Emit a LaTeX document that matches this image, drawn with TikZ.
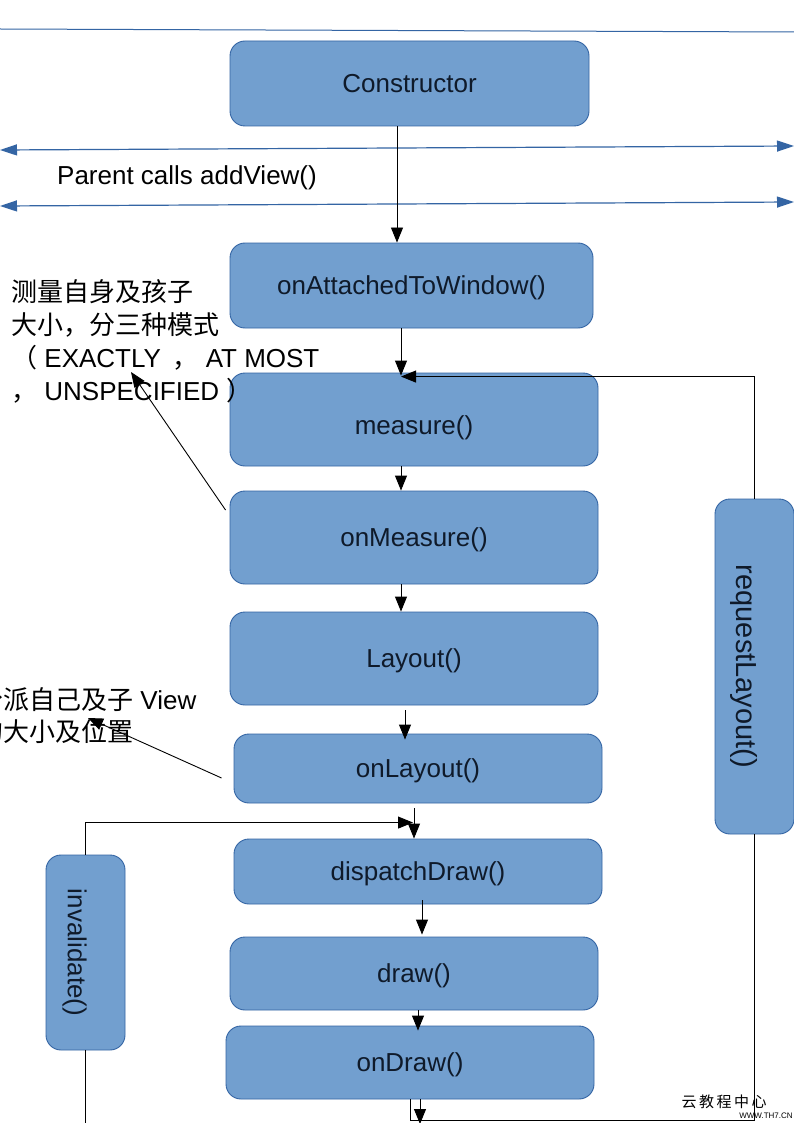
\documentclass[tikz,border=0pt]{standalone}
\usepackage{fontspec}
\setmainfont{Liberation Sans}
\newfontfamily\cjk{Noto Sans CJK SC}
\usetikzlibrary{arrows.meta}
\definecolor{boxfill}{HTML}{729FCF}
\definecolor{boxline}{HTML}{3465A4}
\definecolor{boxtext}{HTML}{0F1A2A}
\begin{document}
\begin{tikzpicture}[x=1pt,y=-1pt,
    box/.style={draw=boxline,fill=boxfill,rounded corners=15pt,line width=0.9pt,text=boxtext,font=\fontsize{26}{31}\selectfont,inner sep=0pt,text depth=0pt},
    boxlabel/.style={text=boxtext,inner sep=0pt},
    flow/.style={-{Triangle[length=15pt,width=12pt]},line width=0.9pt},
    wire/.style={line width=0.9pt},
    span/.style={{Triangle[length=17pt,width=11pt]}-{Triangle[length=17pt,width=11pt]},draw=boxline,line width=1.2pt},
    note/.style={font=\fontsize{26}{33}\selectfont,align=left,anchor=north west,inner sep=0pt}]
    \useasboundingbox[fill=white] (0,0) rectangle (794,1123);
    \draw[draw=boxline,line width=1pt] (0,29) -- (794,32);
    \coordinate (spanAl) at (0,150);
    \coordinate (spanAr) at (794,146);
    \coordinate (spanBl) at (0,206);
    \coordinate (spanBr) at (794,202);
    \draw[span] (spanAl) -- (spanAr);
    \draw[span] (spanBl) -- (spanBr);
    \node[anchor=west,inner sep=0pt,font=\fontsize{26}{31}\selectfont] (addview) at (57,178) {Parent calls addView()};

    \node[box,minimum width=359,minimum height=85] (ctor) at (409.5,83.5) {Constructor};
    \node[box,minimum width=363,minimum height=85] (attach) at (411.5,285.5) {onAttachedToWindow()};
    \node[box,minimum width=368,minimum height=93,text height=30pt] (measure) at (414,419.5) {measure()};
    \node[box,minimum width=368,minimum height=93] (onmeasure) at (414,537.5) {onMeasure()};
    \node[box,minimum width=368,minimum height=93] (layout) at (414,658.5) {Layout()};
    \node[box,minimum width=368,minimum height=69] (onlayout) at (418,768.5) {onLayout()};
    \node[box,minimum width=368,minimum height=65] (dispatch) at (418,871.5) {dispatchDraw()};
    \node[box,minimum width=368,minimum height=73] (drawbox) at (414,973.5) {draw()};
    \node[box,minimum width=368,minimum height=73] (ondraw) at (410,1062.5) {onDraw()};
    \node[box,minimum width=79,minimum height=335] (req) at (754.5,666.5) {};
    \node[boxlabel,rotate=-90,font=\fontsize{29}{31}\selectfont] (reqtext) at ([xshift=-11]req.center) {requestLayout()};
    \node[box,minimum width=79,minimum height=195] (inval) at (85.5,952.5) {};
    \node[boxlabel,rotate=-90,font=\fontsize{26}{31}\selectfont] (invaltext) at ([xshift=-11]inval.center) {invalidate()};

    \draw[flow] ([xshift=-12.5]ctor.south) -- ([xshift=-14.5]attach.north);
    \draw[flow] ([xshift=-10.5]attach.south) -- ([xshift=-13,yshift=-3]measure.north);
    \draw[flow] ([xshift=-13]measure.south) -- ([xshift=-13]onmeasure.north);
    \draw[flow] ([xshift=-13]onmeasure.south) -- ([xshift=-13]layout.north);
    \draw[flow] ([xshift=-9,yshift=-5]layout.south) -- ([xshift=-13,yshift=-6]onlayout.north);
    \draw[flow] ([xshift=-4,yshift=-5]onlayout.south) -- ([xshift=-4]dispatch.north);
    \draw[flow] ([xshift=4,yshift=4]dispatch.south) -- ([xshift=8,yshift=2]drawbox.north);
    \draw[flow] ([xshift=4]drawbox.south) -- ([xshift=8,yshift=-5]ondraw.north);
    \coordinate (drawout) at (420,1124);
    \draw[flow] ([xshift=10]ondraw.south) -- (drawout);

    \draw[flow] (req.north) |- ([xshift=-13,yshift=-4]measure.north);
    \draw[wire] (ondraw.south) -- ++(0,21) -| (req.south);
    \draw[flow] (inval.north) |- ([xshift=-5,yshift=16]dispatch.north);
    \coordinate (invalout) at (85.5,1123);
    \draw[wire] (inval.south) -- (invalout);

    \node[note] (sizenote) at (11,279) {{\cjk 测量自身及孩子}\\{\cjk 大小，分三种模式}\\{\cjk （} EXACTLY \,{\cjk ，} AT MOST\\{\cjk ，} UNSPECIFIED {\cjk ）}};
    \coordinate (sizetip) at (131,372);
    \draw[flow] ([xshift=-4,yshift=27.5]onmeasure.west) -- (sizetip);
    \node[note,font=\fontsize{26}{32}\selectfont] (placenote) at (-23,687) {{\cjk 分派自己及子} View\\{\cjk 的大小及位置}};
    \coordinate (placetip) at (88,718);
    \draw[flow] ([xshift=-12,yshift=-9.5]onlayout.west) -- (placetip);

    \node[inner sep=0pt,font=\cjk\fontsize{15}{15}\selectfont] (mark) at (724,1102) {云\,教\,程\,中\,心};
    \node[inner sep=0pt,font=\fontsize{8}{8}\selectfont] (markurl) at (766,1116) {WWW.TH7.CN};
\end{tikzpicture}
\end{document}
